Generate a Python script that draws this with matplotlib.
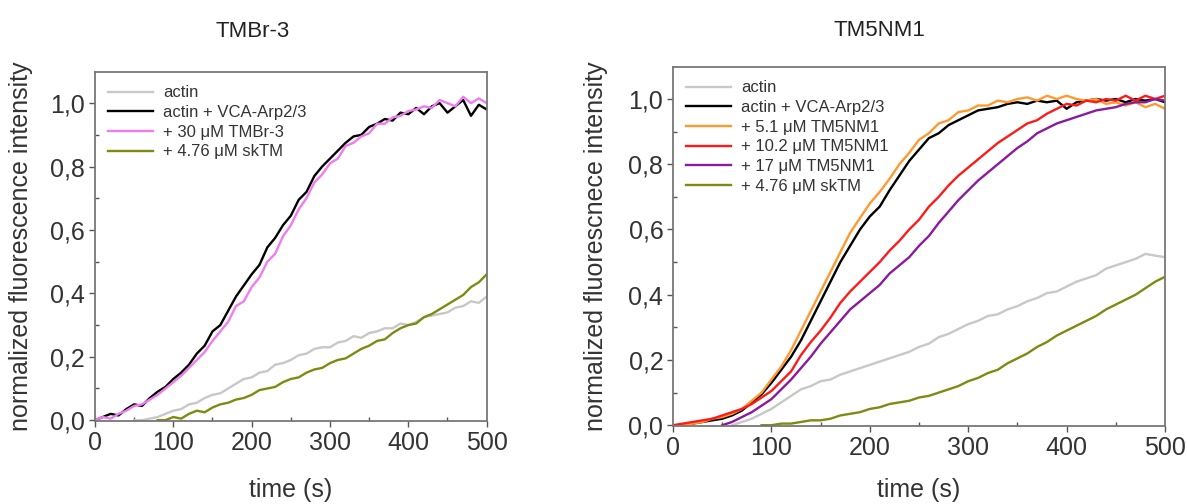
import matplotlib.pyplot as plt
from matplotlib.ticker import MultipleLocator, FuncFormatter

plt.rcParams['font.family'] = ['Liberation Sans', 'DejaVu Sans']

# ---------------- TMBr-3 panel ----------------
t_full = list(range(0, 510, 10))

tmbr_vca = [0.00, 0.01, 0.02, 0.015, 0.035, 0.05, 0.045, 0.07, 0.09, 0.105, 0.13,
            0.15, 0.175, 0.21, 0.235, 0.28, 0.30, 0.345, 0.39, 0.425, 0.46,
            0.49, 0.545, 0.575, 0.615, 0.645, 0.695, 0.72, 0.77, 0.80, 0.825,
            0.85, 0.875, 0.895, 0.90, 0.925, 0.935, 0.95, 0.945, 0.97, 0.965,
            0.985, 0.965, 0.99, 1.00, 0.97, 0.99, 1.01, 0.96, 0.995, 0.98]
tmbr_30 = [0.00, 0.01, 0.005, 0.02, 0.03, 0.045, 0.05, 0.065, 0.08, 0.10, 0.12,
           0.14, 0.165, 0.19, 0.215, 0.25, 0.28, 0.31, 0.36, 0.375, 0.42,
           0.45, 0.50, 0.525, 0.58, 0.615, 0.665, 0.70, 0.75, 0.775, 0.81,
           0.825, 0.865, 0.875, 0.895, 0.905, 0.935, 0.935, 0.955, 0.96, 0.975,
           0.98, 0.99, 0.985, 1.01, 1.00, 0.99, 1.02, 1.00, 1.015, 1.00]
t_actin_l = list(range(50, 510, 10))
tmbr_actin = [0.00, 0.00, 0.005, 0.01, 0.02, 0.03, 0.035, 0.05, 0.055, 0.07, 0.08,
              0.085, 0.10, 0.115, 0.13, 0.135, 0.15, 0.155, 0.175, 0.18, 0.19,
              0.205, 0.21, 0.225, 0.23, 0.23, 0.245, 0.25, 0.265, 0.26, 0.275,
              0.28, 0.29, 0.29, 0.305, 0.30, 0.31, 0.325, 0.33, 0.335, 0.34,
              0.355, 0.36, 0.375, 0.37, 0.39]
t_sktm_l = list(range(80, 510, 10))
tmbr_sktm = [0.00, 0.00, 0.01, 0.005, 0.02, 0.03, 0.025, 0.04, 0.05, 0.055, 0.065,
             0.07, 0.08, 0.095, 0.10, 0.105, 0.12, 0.13, 0.135, 0.15, 0.16,
             0.165, 0.18, 0.19, 0.195, 0.21, 0.225, 0.235, 0.25, 0.255, 0.275,
             0.29, 0.30, 0.305, 0.325, 0.335, 0.35, 0.365, 0.38, 0.395, 0.42,
             0.435, 0.46]

# ---------------- TM5NM1 panel ----------------
tm5_vca = [0.00, 0.00, 0.005, 0.01, 0.015, 0.02, 0.03, 0.045, 0.07, 0.095, 0.13,
           0.17, 0.21, 0.26, 0.32, 0.38, 0.44, 0.50, 0.55, 0.60, 0.64,
           0.67, 0.72, 0.765, 0.81, 0.845, 0.88, 0.895, 0.92, 0.935, 0.95,
           0.965, 0.97, 0.975, 0.985, 0.99, 0.985, 0.995, 0.99, 0.995, 0.97,
           0.99, 0.995, 1.00, 0.995, 1.00, 0.99, 1.00, 0.995, 1.00, 0.99]
tm5_51 = [0.00, 0.00, 0.005, 0.01, 0.02, 0.025, 0.035, 0.05, 0.075, 0.10, 0.14,
          0.18, 0.23, 0.29, 0.35, 0.41, 0.47, 0.53, 0.59, 0.635, 0.68,
          0.715, 0.755, 0.80, 0.835, 0.875, 0.895, 0.925, 0.935, 0.96, 0.965,
          0.98, 0.98, 0.995, 0.99, 1.00, 1.005, 0.995, 1.01, 1.00, 1.01,
          1.00, 0.995, 1.00, 0.985, 0.99, 0.98, 0.99, 0.975, 0.985, 0.97]
tm5_102 = [0.00, 0.005, 0.01, 0.015, 0.02, 0.03, 0.04, 0.05, 0.065, 0.085, 0.105,
           0.135, 0.165, 0.215, 0.255, 0.29, 0.33, 0.375, 0.41, 0.44, 0.47,
           0.50, 0.535, 0.565, 0.60, 0.63, 0.67, 0.70, 0.735, 0.765, 0.79,
           0.815, 0.84, 0.865, 0.885, 0.905, 0.925, 0.935, 0.955, 0.97, 0.985,
           0.98, 0.995, 0.99, 1.00, 0.995, 1.01, 0.995, 1.01, 1.00, 1.01]
t_17 = list(range(50, 510, 10))
tm5_17 = [0.00, 0.01, 0.025, 0.04, 0.06, 0.08, 0.11, 0.14, 0.175, 0.21, 0.25,
          0.285, 0.32, 0.355, 0.38, 0.405, 0.43, 0.465, 0.49, 0.515, 0.55,
          0.58, 0.62, 0.655, 0.69, 0.72, 0.75, 0.775, 0.80, 0.825, 0.85,
          0.87, 0.895, 0.91, 0.925, 0.935, 0.945, 0.955, 0.965, 0.97, 0.975,
          0.985, 0.99, 0.99, 1.00, 0.995]
t_actin_r = list(range(60, 510, 10))
tm5_actin = [0.00, 0.01, 0.02, 0.035, 0.05, 0.07, 0.09, 0.11, 0.12, 0.135,
             0.14, 0.155, 0.165, 0.175, 0.185, 0.195, 0.205, 0.215, 0.225, 0.24,
             0.25, 0.27, 0.28, 0.295, 0.31, 0.32, 0.335, 0.34, 0.355, 0.365,
             0.38, 0.39, 0.405, 0.41, 0.425, 0.44, 0.45, 0.46, 0.48, 0.49,
             0.50, 0.51, 0.525, 0.52, 0.515]
t_sktm_r = list(range(90, 510, 10))
tm5_sktm = [0.00, 0.00, 0.005, 0.005, 0.01, 0.015, 0.015, 0.02, 0.03, 0.035,
            0.04, 0.05, 0.055, 0.065, 0.07, 0.075, 0.085, 0.09, 0.10, 0.11,
            0.12, 0.135, 0.145, 0.16, 0.17, 0.19, 0.205, 0.22, 0.24, 0.255,
            0.275, 0.29, 0.305, 0.32, 0.335, 0.355, 0.37, 0.385, 0.40, 0.42,
            0.44, 0.455]

GRAY = '#c8c8c8'
OLIVE = '#7f8a12'

fig = plt.figure(figsize=(11.87, 5.04), dpi=100)
ax1 = fig.add_axes([0.080, 0.165, 0.330, 0.692])
ax2 = fig.add_axes([0.567, 0.155, 0.4145, 0.712])

lw = 1.7
ax1.plot(t_actin_l, tmbr_actin, color=GRAY, lw=lw, label='actin')
ax1.plot(t_full, tmbr_vca, color='black', lw=lw, label='actin + VCA-Arp2/3')
ax1.plot(t_full, tmbr_30, color='#f07cf0', lw=lw, label='+ 30 μM TMBr-3')
ax1.plot(t_sktm_l, tmbr_sktm, color=OLIVE, lw=lw, label='+ 4.76 μM skTM')

ax2.plot(t_actin_r, tm5_actin, color=GRAY, lw=lw, label='actin')
ax2.plot(t_full, tm5_vca, color='black', lw=lw, label='actin + VCA-Arp2/3')
ax2.plot(t_full, tm5_51, color='#ff9a30', lw=lw, label='+ 5.1 μM TM5NM1')
ax2.plot(t_full, tm5_102, color='#ff1a1a', lw=lw, label='+ 10.2 μM TM5NM1')
ax2.plot(t_17, tm5_17, color='#8a1a9e', lw=lw, label='+ 17 μM TM5NM1')
ax2.plot(t_sktm_r, tm5_sktm, color=OLIVE, lw=lw, label='+ 4.76 μM skTM')

comma = FuncFormatter(lambda v, p: ('%.1f' % v).replace('.', ','))

panels = [(ax1, 'normalized fluorescence intensity', -0.158, -0.163),
          (ax2, 'normalized fluorescnece intensity', -0.132, -0.145)]
for ax, ylab, ylx, xly in panels:
    ax.set_xlim(0, 500)
    ax.set_ylim(-0.002, 1.098)
    ax.xaxis.set_major_locator(MultipleLocator(100))
    ax.xaxis.set_minor_locator(MultipleLocator(50))
    ax.yaxis.set_major_locator(MultipleLocator(0.2))
    ax.yaxis.set_minor_locator(MultipleLocator(0.1))
    ax.yaxis.set_major_formatter(comma)
    ax.tick_params(which='major', direction='out', length=4, width=1.0,
                   labelsize=18, colors='#555555', labelcolor='#333333', pad=3)
    ax.tick_params(which='minor', direction='in', length=3, width=1.0,
                   colors='#555555')
    for s in ax.spines.values():
        s.set_color('#777777')
        s.set_linewidth(1.3)
    ax.set_xlabel('time (s)', fontsize=18, color='#333333')
    ax.xaxis.set_label_coords(0.5, xly)
    ax.set_ylabel(ylab, fontsize=18, color='#333333')
    ax.yaxis.set_label_coords(ylx, 0.5)
    ax.legend(loc='upper left', frameon=False, fontsize=12, handlelength=2.7,
              handletextpad=0.6, labelspacing=0.28, borderaxespad=0.45,
              borderpad=0.35, labelcolor='#333333')

fig.text(0.213, 0.938, 'TMBr-3', fontsize=16, color='#222222', ha='center', va='center')
fig.text(0.741, 0.940, 'TM5NM1', fontsize=16, color='#222222', ha='center', va='center')

fig.savefig('out.png', dpi=100)
